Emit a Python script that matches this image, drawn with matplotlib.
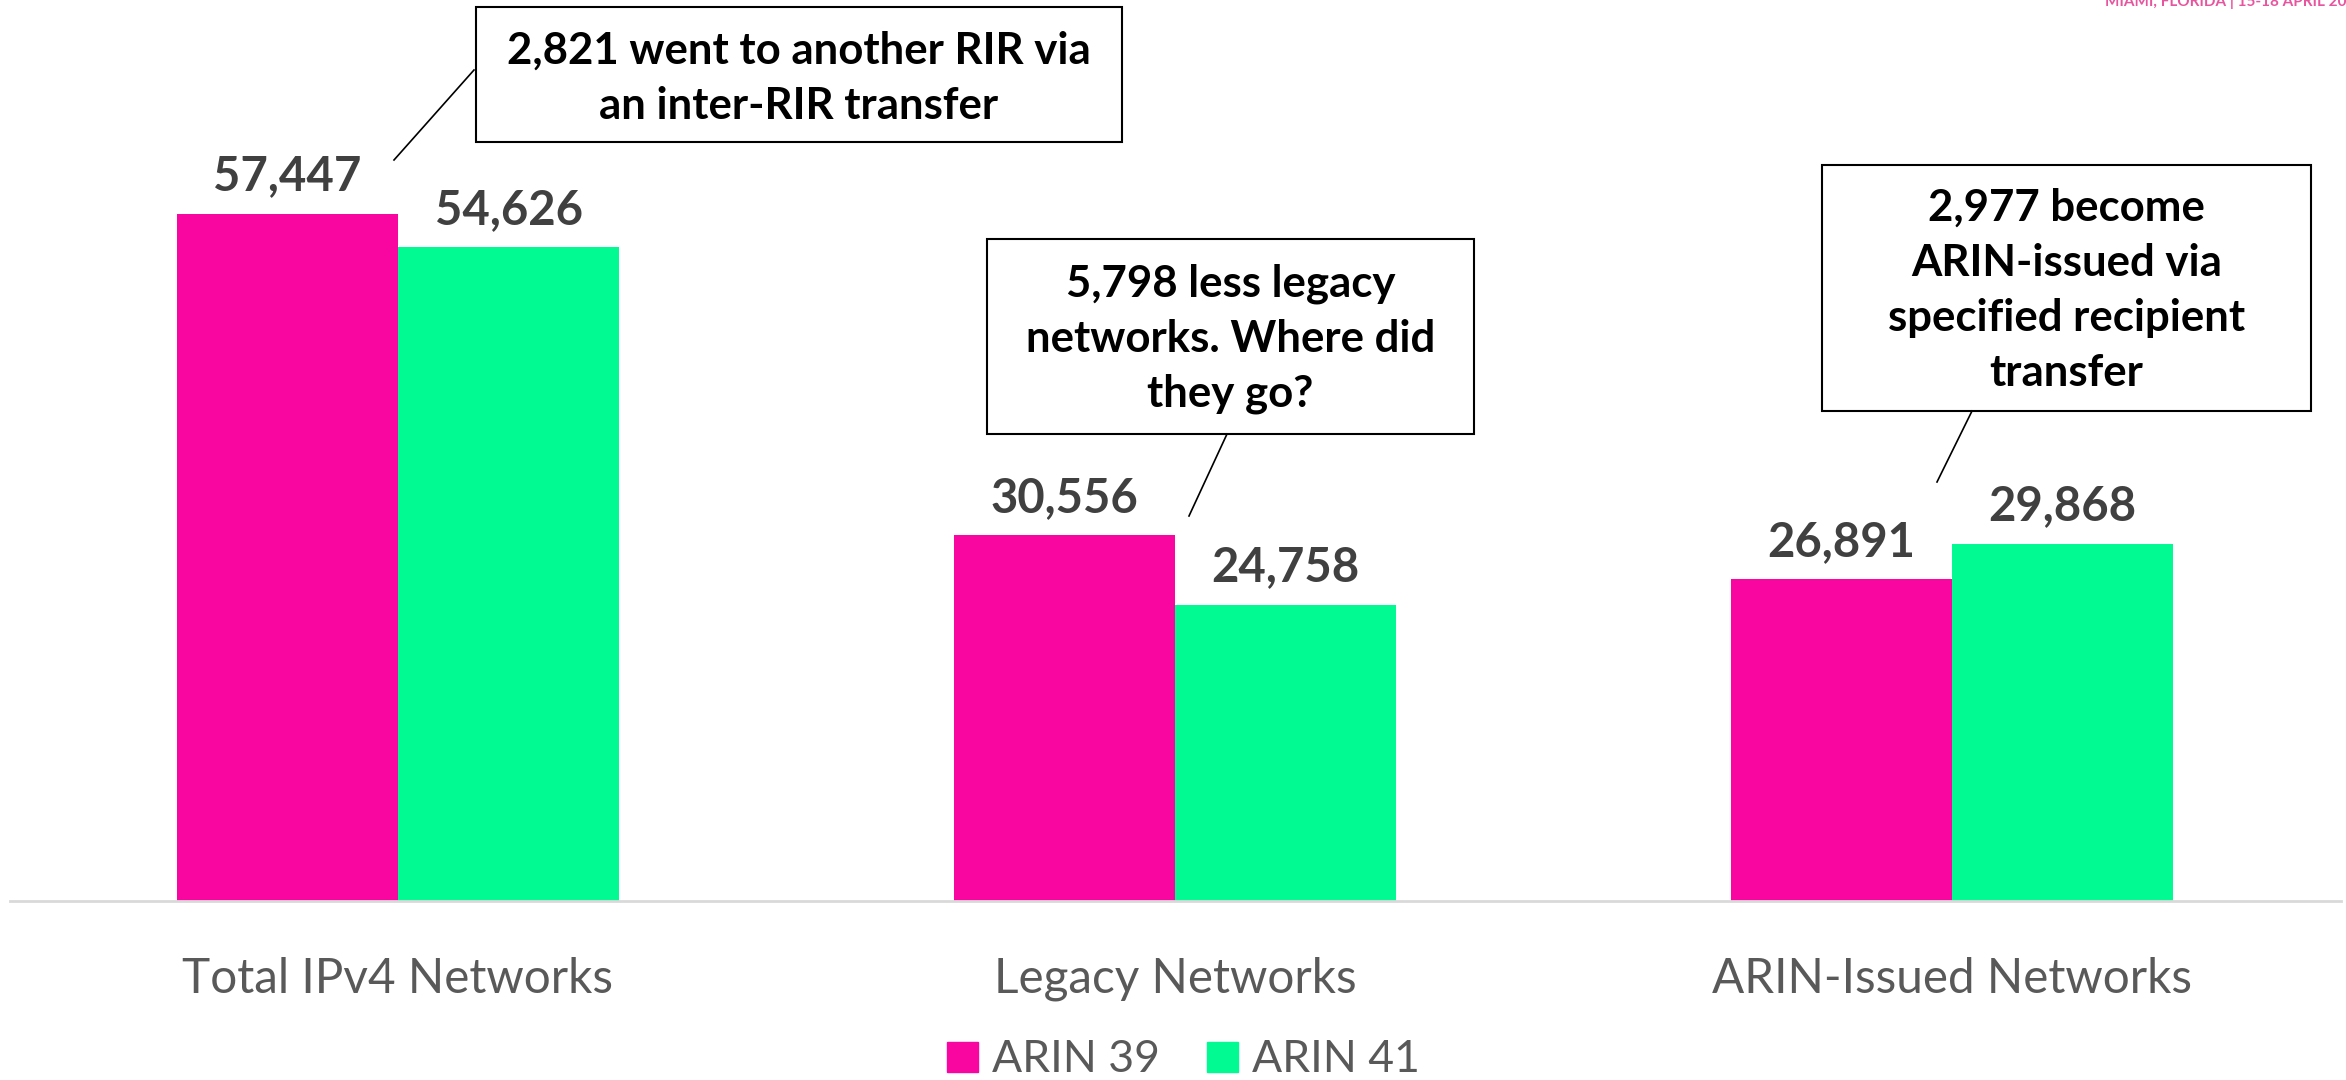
import matplotlib.pyplot as plt
from matplotlib.patches import Rectangle, Patch
from matplotlib.lines import Line2D
import numpy as np

# DATA -------------------------------------------------
categories = ["Total IPv4 Networks", "Legacy Networks", "ARIN-Issued Networks"]
series_names = ["ARIN 39", "ARIN 41"]
arin39 = [57447, 30556, 26891]
arin41 = [54626, 24758, 29868]

notes = [
    ["2,821 went to another RIR via", "an inter-RIR transfer"],
    ["5,798 less legacy", "networks. Where did", "they go?"],
    ["2,977 become", "ARIN-issued via", "specified recipient", "transfer"],
]

PINK = "#F906A0"
GREEN = "#02FA93"
W, H = 2346, 1080
FONT = "Lato"

fig = plt.figure(figsize=(W / 100, H / 100), dpi=100)
ax = fig.add_axes([9.5 / W, 179 / H, 2331 / W, 901 / H])

x = np.arange(len(categories))
bw = 0.285
b1 = ax.bar(x - bw / 2, arin39, bw, color=PINK, label=series_names[0])
b2 = ax.bar(x + bw / 2, arin41, bw, color=GREEN, label=series_names[1])

for bars in (b1, b2):
    ax.bar_label(bars, labels=[f"{v:,}" for v in bars.datavalues], padding=11,
                 fontsize=34, fontweight="bold", color="#404040", family=FONT)

ax.set_xlim(-0.5, 2.5)
ax.set_ylim(0, 75300)
ax.set_yticks([])
ax.set_xticks(x)
ax.set_xticklabels(categories, fontsize=34.3, color="#595959", family=FONT)
ax.tick_params(axis="x", length=0, pad=40)
for s in ["top", "right", "left"]:
    ax.spines[s].set_visible(False)
ax.spines["bottom"].set_color("#d9d9d9")
ax.spines["bottom"].set_linewidth(2)


def fx(px):
    return px / W


def fy(py):
    return 1 - py / H


# callout boxes: (left, top, right, bottom), first line centre, leader start/end
boxes = [
    ((476, 7, 1122, 142), 48, ((474, 70), (394, 160))),
    ((987, 239, 1474, 434), 281, ((1227, 434), (1189, 516))),
    ((1822, 165, 2311, 411), 205, ((1972, 411), (1937, 482))),
]
for ((l, t, r, b), y0, (p0, p1)), lines in zip(boxes, notes):
    fig.add_artist(Rectangle((fx(l), fy(b)), fx(r) - fx(l), fy(t) - fy(b),
                             transform=fig.transFigure, fill=True, facecolor="white",
                             edgecolor="black", linewidth=1.5))
    fig.add_artist(Line2D([fx(p0[0]), fx(p1[0])], [fy(p0[1]), fy(p1[1])],
                          transform=fig.transFigure, color="black", linewidth=1.2))
    cx = (l + r) / 2
    for i, line in enumerate(lines):
        fig.text(fx(cx), fy(y0 + i * 55 + 15.5), line, ha="center", va="baseline",
                 fontsize=31.5, fontweight="bold", color="black", family=FONT)

# event tag, cut off at the top right corner
fig.text(fx(2105), fy(6), "MIAMI, FLORIDA | 15-18 APRIL 2018", ha="left", va="baseline",
         fontsize=11, fontweight="bold", color="#E8559F", family=FONT)

handles = [Patch(color=PINK), Patch(color=GREEN)]
fig.legend(handles, series_names, loc="center", bbox_to_anchor=(1183.5 / W, 20 / H),
           ncol=2, frameon=False, handlelength=0.68, handleheight=0.68,
           handletextpad=0.32, columnspacing=1.07, borderpad=0,
           labelcolor="#595959", prop={"family": FONT, "size": 32})

fig.savefig("out.png", dpi=100)
